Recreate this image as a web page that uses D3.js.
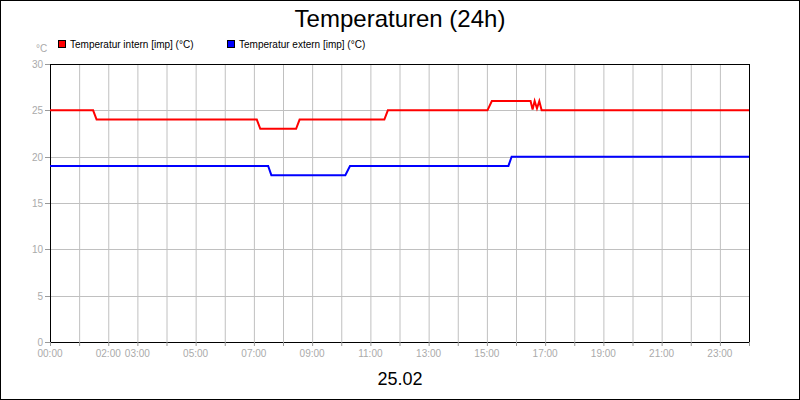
<!DOCTYPE html>
<html><head><meta charset="utf-8">
<script src="https://cdn.jsdelivr.net/npm/d3@7"></script>
<style>body{margin:0;background:#fff}svg{display:block;font-family:"Liberation Sans",Arial,sans-serif}</style>
</head><body><svg id="c" width="800" height="400"></svg>
<script>
const seriesNames = ["Temperatur intern [imp] (°C)", "Temperatur extern [imp] (°C)"];
const seriesColors = ["#ff0000", "#0000ff"];
const internHours = [0, 1.48, 1.6, 7.1, 7.22, 8.45, 8.57, 11.48, 11.6, 15.02, 15.17, 16.5, 16.57, 16.64, 16.72, 16.8, 16.88, 16.97, 24];
const internTemps = [25, 25, 24, 24, 23, 23, 24, 24, 25, 25, 26, 26, 25.1, 26, 25.2, 26, 25, 25, 25];
const externHours = [0, 7.49, 7.6, 10.14, 10.3, 15.74, 15.85, 24];
const externTemps = [19, 19, 18, 18, 19, 19, 20, 20];
const yTicks = [0, 5, 10, 15, 20, 25, 30];
const xLabelHours = [0, 2, 3, 5, 7, 9, 11, 13, 15, 17, 19, 21, 23];
const gridHours = d3.range(0, 25);

const svg = d3.select("#c");
svg.append("rect").attr("x",0.5).attr("y",0.5).attr("width",799).attr("height",399).attr("fill","#fff").attr("stroke","#000");
const L=50,R=749,T=64,B=342;
const x=d3.scaleLinear().domain([0,24]).range([L,R]);
const y=d3.scaleLinear().domain([0,30]).range([B,T]);
const g=svg.append("g");
g.selectAll(".vg").data(gridHours.slice(1,24)).join("line").attr("x1",d=>x(d)+.5).attr("x2",d=>x(d)+.5).attr("y1",T).attr("y2",B).attr("stroke","#c0c0c0");
g.selectAll(".hg").data(yTicks.slice(1,6)).join("line").attr("x1",L).attr("x2",R).attr("y1",d=>Math.round(y(d))+.5).attr("y2",d=>Math.round(y(d))+.5).attr("stroke","#c0c0c0");
g.append("rect").attr("x",L+.5).attr("y",T+.5).attr("width",R-L).attr("height",B-T).attr("fill","none").attr("stroke","#000");
g.selectAll(".xt").data(gridHours).join("line").attr("x1",d=>x(d)+.5).attr("x2",d=>x(d)+.5).attr("y1",B).attr("y2",B+4).attr("stroke","#999");
g.selectAll(".yt").data(yTicks).join("line").attr("x1",L-5).attr("x2",L).attr("y1",d=>Math.round(y(d))+.5).attr("y2",d=>Math.round(y(d))+.5).attr("stroke","#999");
g.selectAll(".xl").data(xLabelHours).join("text").attr("x",d=>x(d)).attr("y",B+15).attr("text-anchor","middle").attr("font-size",10).attr("fill","#aaa").text(d=>String(d).padStart(2,"0")+":00");
g.selectAll(".yl").data(yTicks).join("text").attr("x",L-7).attr("y",d=>y(d)+4).attr("text-anchor","end").attr("font-size",10).attr("fill","#aaa").text(d=>d);
svg.append("text").attr("x",36).attr("y",52).attr("font-size",10).attr("fill","#aaa").text("°C");
const line=d3.line().x(d=>x(d[0])).y(d=>y(d[1]));
[[internHours,internTemps],[externHours,externTemps]].forEach((s,i)=>{
  g.append("path").attr("d",line(d3.zip(s[0],s[1]))).attr("fill","none").attr("stroke",seriesColors[i]).attr("stroke-width",2);
});
const lx=[58,227];
seriesNames.forEach((n,i)=>{
  svg.append("rect").attr("x",lx[i]+.5).attr("y",40.5).attr("width",7).attr("height",7).attr("fill",seriesColors[i]).attr("stroke","#000");
  svg.append("text").attr("x",lx[i]+12).attr("y",48).attr("font-size",10).attr("fill","#000").text(n);
});
svg.append("text").attr("x",400).attr("y",27).attr("text-anchor","middle").attr("font-size",24).text("Temperaturen (24h)");
svg.append("text").attr("x",400).attr("y",385).attr("text-anchor","middle").attr("font-size",18).text("25.02");
</script></body></html>
